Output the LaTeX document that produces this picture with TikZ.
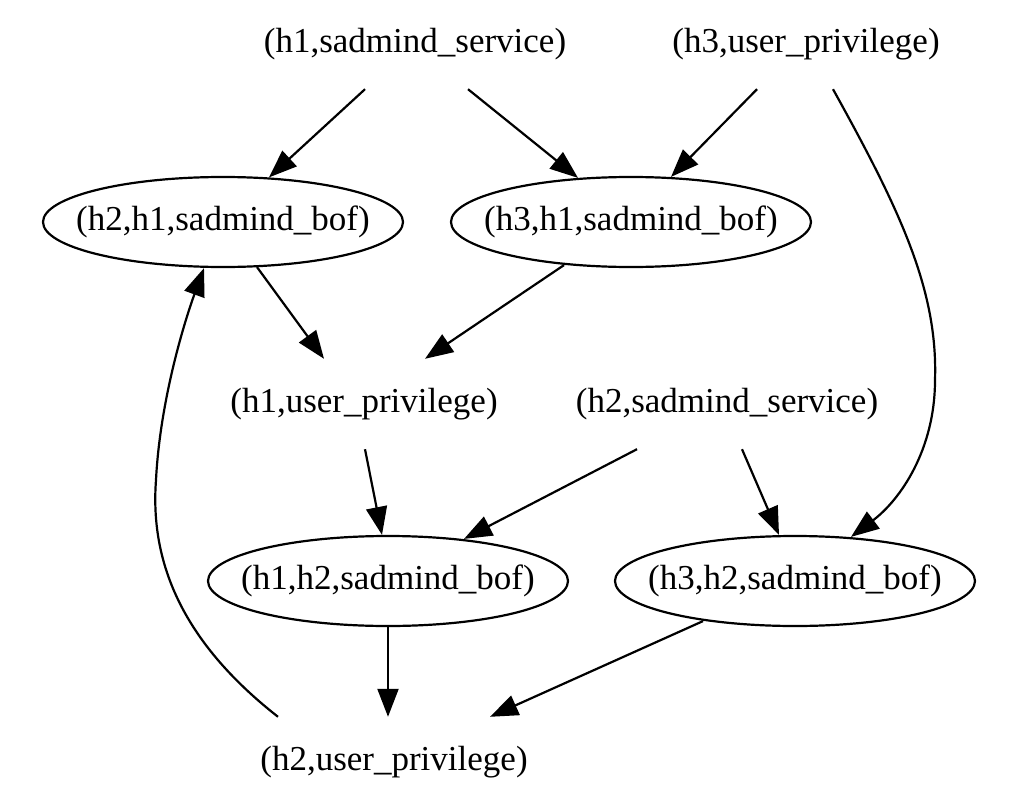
\documentclass[tikz,border=0pt]{standalone}
\usepackage{fontspec}
\setmainfont{Liberation Serif}
\usetikzlibrary{arrows.meta,shapes.geometric}
\tikzset{
  lbl/.style={shape=rectangle,inner sep=0pt,minimum height=90pt,font=\fontsize{35}{40}\selectfont},
  ell/.style={shape=ellipse,draw,line width=2.2pt,inner sep=0pt,minimum width=360pt,minimum height=90pt,font=\fontsize{35}{40}\selectfont},
  edge/.style={line width=2.2pt,-{Triangle[length=28pt,width=21pt]}}
}
\newcommand{\zb}[1]{\makebox[0pt]{#1}}
\begin{document}
\begin{tikzpicture}[x=1pt,y=-1pt]
\useasboundingbox (0,0) rectangle (1023,808);
\node[lbl] (h1ss) at (415,44) {(h1,sadmind\_service)};
\node[lbl] (h3up) at (806,44) {(h3,user\_privilege)};
\node[ell] (h2h1) at (223,222) {\zb{(h2,h1,sadmind\_bof)}};
\node[ell] (h3h1) at (631,222) {\zb{(h3,h1,sadmind\_bof)}};
\node[lbl] (h1up) at (364,404) {(h1,user\_privilege)};
\node[lbl] (h2ss) at (727,404) {(h2,sadmind\_service)};
\node[ell] (h1h2) at (388,581) {\zb{(h1,h2,sadmind\_bof)}};
\node[ell] (h3h2) at (795,581) {\zb{(h3,h2,sadmind\_bof)}};
\node[lbl] (h2up) at (394,762) {(h2,user\_privilege)};
\coordinate (c1) at (935,380);
\coordinate (c2) at (156,480);

\draw[edge] ([xshift=-50pt]h1ss.south) -- ([xshift=46pt,yshift=-1.5pt]h2h1.north);
\draw[edge] ([xshift=53pt]h1ss.south) -- ([xshift=-53pt,yshift=-2pt]h3h1.north);
\draw[edge] ([xshift=-49pt]h3up.south) -- ([xshift=40pt,yshift=-1pt]h3h1.north);
\draw[edge] ([xshift=27pt]h3up.south) .. controls (900,210) and (938,290) .. (c1)
  .. controls (935,450) and (900,500) .. ([xshift=56pt,yshift=-2pt]h3h2.north);
\draw[edge] ([xshift=34pt,yshift=1pt]h2h1.south) -- ([xshift=-40pt]h1up.north);
\draw[edge] ([xshift=-67pt,yshift=3pt]h3h1.south) -- ([xshift=61pt]h1up.north);
\draw[edge] ([xshift=1pt]h1up.south) -- ([xshift=-6pt]h1h2.north);
\draw[edge] ([xshift=-90pt]h2ss.south) -- ([xshift=76pt,yshift=-4pt]h1h2.north);
\draw[edge] ([xshift=15pt]h2ss.south) -- ([xshift=-16pt]h3h2.north);
\draw[edge] (h1h2.south) -- ([xshift=-6pt]h2up.north);
\draw[edge] ([xshift=-92pt,yshift=6pt]h3h2.south) -- ([xshift=96pt]h2up.north);
\draw[edge] ([xshift=-116pt]h2up.north) .. controls (180,640) and (150,560) .. (c2)
  .. controls (160,400) and (185,320) .. ([xshift=-19pt]h2h1.south);
\end{tikzpicture}
\end{document}
